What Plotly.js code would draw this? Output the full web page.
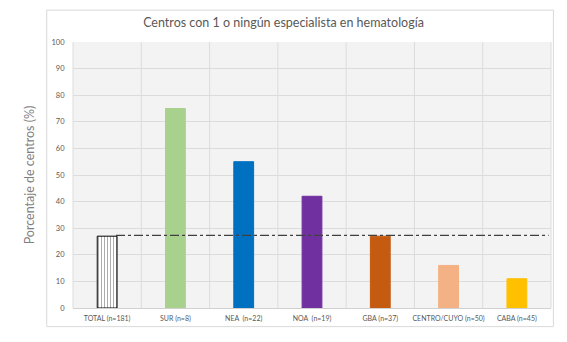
<!DOCTYPE html>
<html>
<head>
<meta charset="utf-8">
<script src="https://cdn.plot.ly/plotly-3.0.1.min.js"></script>
<style>html,body{margin:0;padding:0;background:#fff;}#chart{width:567px;height:342px;}</style>
</head>
<body>
<div id="chart"></div>
<script>
const categories = ["TOTAL (n=181)", "SUR (n=8)", "NEA  (n=22)", "NOA  (n=19)", "GBA (n=37)", "CENTRO/CUYO (n=50)", "CABA (n=45)"];
const values = [27, 75, 55, 42, 27, 16, 11];
const barColors = ["#ffffff", "#a9d18e", "#0070c0", "#7030a0", "#c55a11", "#f4b183", "#ffc000"];
const referenceLevel = [27.3];
const yTicks = [0, 10, 20, 30, 40, 50, 60, 70, 80, 90, 100];

const patternShapes = categories.map((c, i) => i === 0 ? "|" : "");
const lineColors = categories.map((c, i) => i === 0 ? "#000000" : barColors[i]);

const data = [{
  type: "bar",
  x: categories,
  y: values,
  width: 0.29,
  marker: {
    color: barColors,
    line: {color: lineColors, width: 1},
    pattern: {shape: patternShapes, fgcolor: "#000000", bgcolor: "#ffffff", size: 3, solidity: 0.3, fillmode: "overlay"}
  },
  hoverinfo: "skip"
}];

const layout = {
  width: 567, height: 342,
  margin: {l: 73, r: 16, t: 41.5, b: 33.5},
  paper_bgcolor: "#ffffff",
  plot_bgcolor: "#f3f3f3",
  font: {family: "Lato, 'Open Sans', sans-serif", color: "#595959"},
  title: {text: "Centros con 1 o ningún especialista en hematología", font: {size: 12.5, color: "#595959"}, x: 0.5, xanchor: "center", y: 0.935, yanchor: "middle"},
  showlegend: false,
  bargap: 0.7,
  xaxis: {
    type: "category",
    tickfont: {size: 7, color: "#595959"},
    showgrid: false,
    ticks: "outside", ticklen: 4, tickcolor: "rgba(0,0,0,0)",
    showline: false, zeroline: false,
    tickangle: 0
  },
  yaxis: {
    range: [0, 100],
    tickvals: yTicks,
    ticktext: yTicks.map(String),
    tickfont: {size: 7.5, color: "#595959"},
    gridcolor: "#dcdcdc", gridwidth: 1,
    zeroline: true, zerolinecolor: "#d0d0d0",
    ticks: "outside", ticklen: 6, tickcolor: "rgba(0,0,0,0)",
    title: {text: "Porcentaje de centros (%)", font: {size: 12.5, color: "#7f7f7f"}, standoff: 14},
    fixedrange: true
  },
  shapes: [
    // vertical category gridlines
    ...categories.slice(0, categories.length).map((c, i) => ({
      type: "line", xref: "paper", yref: "paper",
      x0: i / categories.length, x1: i / categories.length, y0: 0, y1: 1,
      line: {color: "#dcdcdc", width: 1}, layer: "below"
    })),
    {type: "line", xref: "paper", yref: "paper", x0: 1, x1: 1, y0: 0, y1: 1, line: {color: "#dcdcdc", width: 1}, layer: "below"},
    // reference dash-dot line
    {type: "line", xref: "paper", yref: "y", x0: 0.09, x1: 0.995, y0: referenceLevel[0], y1: referenceLevel[0],
     line: {color: "#404040", width: 1.2, dash: "dashdot"}},
    // chart border
    {type: "rect", xref: "paper", yref: "paper", x0: -0.055, x1: 1.005, y0: -0.07, y1: 1.12,
     line: {color: "#d9d9d9", width: 1}, fillcolor: "rgba(0,0,0,0)"}
  ]
};

Plotly.newPlot("chart", data, layout, {displayModeBar: false, staticPlot: true});
</script>
</body>
</html>
